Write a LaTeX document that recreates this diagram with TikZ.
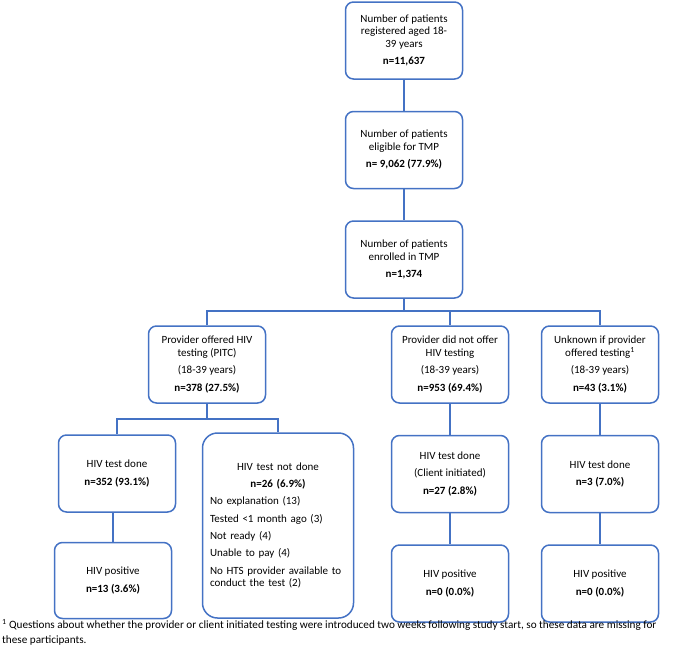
\documentclass[tikz,border=0pt]{standalone}
\usepackage{fontspec}
\setmainfont{Carlito}
\usepackage{xcolor}
\usepackage{tikz}
\usetikzlibrary{positioning}
\definecolor{hivblue}{HTML}{4472C4}

\begin{document}
\begin{tikzpicture}[x=1pt,y=-1pt,every node/.style={font=\fontsize{11}{12.7}\selectfont},
    box/.style={draw=hivblue,line width=1.5pt,rounded corners=8pt,minimum width=117pt,minimum height=77pt,align=center,inner sep=2pt},
    link/.style={draw=hivblue,line width=1.5pt}]
    \useasboundingbox (0,0) rectangle (683,664);
    % top chain
    \node[box] (reg) at (404,40.5) {Number of patients\\registered  aged 18-\\39 years\\[4.6pt]\textbf{n=11,637}};
    \node[box,below=31pt of reg] (elig) {Number of patients\\eligible for TMP\\[4.6pt]\textbf{n= 9,062 (77.9\%)}};
    \node[box,below=31pt of elig] (enrol) {Number of patients\\enrolled in TMP\\[4.6pt]\textbf{n=1,374}};
    % groups
    \node[box] (pitc) at (207,364.5) {Provider offered HIV\\testing (PITC)\\[4.6pt](18-39 years)\\[4.6pt]\textbf{n=378 (27.5\%)}};
    \node[box] (nooffer) at (450,364.5) {Provider did not offer\\HIV testing\\[4.6pt](18-39 years)\\[4.6pt]\textbf{n=953 (69.4\%)}};
    \node[box] (unknown) at (600,364.5) {Unknown if provider\\offered testing\textsuperscript{1}\\[4.6pt](18-39 years)\\[4.6pt]\textbf{n=43 (3.1\%)}};
    % tests
    \node[box] (done1) at (117,473.5) {HIV test done\\[4.6pt]\textbf{n=352 (93.1\%)}};
    \node[box,rounded corners=15pt,minimum width=151pt,minimum height=185pt,text width=136pt,align=left] (notdone) at (278,525.5) {%
      {\centering HIV test not done\\[4.6pt]\textbf{n=26 (6.9\%)}\par}\vspace{4.6pt}
      No explanation (13)\\[4.6pt]
      Tested <1 month ago (3)\\[4.6pt]
      Not ready (4)\\[4.6pt]
      Unable to pay (4)\\[4.6pt]
      No HTS provider available to\\conduct the test (2)};
    \node[box,below=31pt of nooffer] (done2) {HIV test done\\[4.6pt](Client initiated)\\[4.6pt]\textbf{n=27 (2.8\%)}};
    \node[box,below=31pt of unknown] (done3) {HIV test done\\[4.6pt]\textbf{n=3 (7.0\%)}};
    % positives
    \node[box,minimum height=76pt] (pos1) at (113,580.5) {HIV positive\\[4.6pt]\textbf{n=13 (3.6\%)}};
    \node[box,below=31pt of done2] (pos2) {HIV positive\\[4.6pt]\textbf{n=0 (0.0\%)}};
    \node[box,below=31pt of done3] (pos3) {HIV positive\\[4.6pt]\textbf{n=0 (0.0\%)}};
    % connectors
    \coordinate (split) at (404,311);
    \coordinate (split2) at (207,419);
    \draw[link] (reg) -- (elig);
    \draw[link] (elig) -- (enrol);
    \draw[link] (enrol) -- (split);
    \draw[link] (pitc.north) |- (split) -| (unknown.north);
    \draw[link] (nooffer.north) -- (nooffer.north |- split);
    \draw[link] (pitc) -- (split2);
    \draw[link] (done1.north) |- (split2) -| (notdone.north);
    \draw[link] (pos1.north |- done1.south) -- (pos1.north);
    \draw[link] (nooffer) -- (done2);
    \draw[link] (done2) -- (pos2);
    \draw[link] (unknown) -- (done3);
    \draw[link] (done3) -- (pos3);
    % footnote
    \node[anchor=base west,align=left,inner sep=0pt,font=\fontsize{11.2}{15}\selectfont] (note) at (2,643) {\textsuperscript{1} Questions about whether the provider or client initiated testing were introduced two weeks following study start, so these data are missing for\\these participants.};
\end{tikzpicture}
\end{document}
